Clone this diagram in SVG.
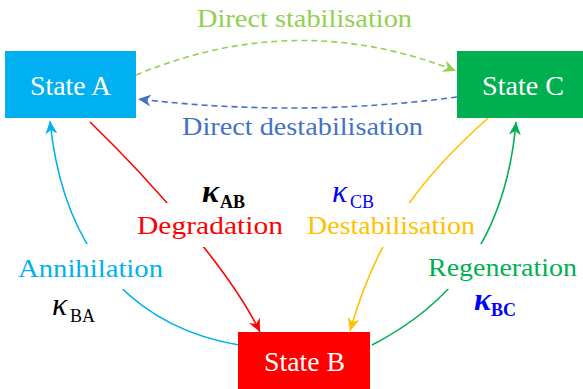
<svg xmlns="http://www.w3.org/2000/svg" width="583" height="389" viewBox="0 0 583 389">
<style>
text{font-family:"Liberation Serif","Times New Roman",serif;}
.lbl{font-size:26px;text-anchor:middle;}
.st{font-size:28px;fill:#fff;text-anchor:middle;}
.k{font-size:32px;font-style:italic;}
.sub{font-size:18px;font-style:normal;}
.c{fill:none;stroke-width:1.6;}
.d{stroke-dasharray:6 4;}
.bg{fill:#fff;}
</style>
<defs>
<marker id="mG1" markerUnits="userSpaceOnUse" markerWidth="14" markerHeight="12" refX="13" refY="6" orient="auto"><path d="M0,0 L13,6 L0,12 L4,6 z" fill="#92D050"/></marker>
<marker id="mB" markerUnits="userSpaceOnUse" markerWidth="14" markerHeight="12" refX="13" refY="6" orient="auto"><path d="M0,0 L13,6 L0,12 L4,6 z" fill="#4472C4"/></marker>
<marker id="mR" markerUnits="userSpaceOnUse" markerWidth="14" markerHeight="12" refX="13" refY="6" orient="auto"><path d="M0,0 L13,6 L0,12 L4,6 z" fill="#FF0000"/></marker>
<marker id="mC" markerUnits="userSpaceOnUse" markerWidth="14" markerHeight="12" refX="13" refY="6" orient="auto"><path d="M0,0 L13,6 L0,12 L4,6 z" fill="#00B0F0"/></marker>
<marker id="mY" markerUnits="userSpaceOnUse" markerWidth="14" markerHeight="12" refX="13" refY="6" orient="auto"><path d="M0,0 L13,6 L0,12 L4,6 z" fill="#FFC000"/></marker>
<marker id="mG2" markerUnits="userSpaceOnUse" markerWidth="14" markerHeight="12" refX="13" refY="6" orient="auto"><path d="M0,0 L13,6 L0,12 L4,6 z" fill="#00B050"/></marker>
</defs>
<g id="connectors">
<path class="c d" stroke="#92D050" d="M136,75 Q297,8 456,71" marker-end="url(#mG1)"/>
<path class="c d" stroke="#4472C4" d="M457,97 Q300,118 138,99" marker-end="url(#mB)"/>
<path class="c" stroke="#FF0000" d="M90,122 C150,180 230,270 260,332" marker-end="url(#mR)"/>
<path class="c" stroke="#00B0F0" d="M239,345 C150,330 65,270 50,121" marker-end="url(#mC)"/>
<path class="c" stroke="#FFC000" d="M488,118 C430,170 380,225 350,331" marker-end="url(#mY)"/>
<path class="c" stroke="#00B050" d="M372,345 C440,310 505,250 516,122" marker-end="url(#mG2)"/>
</g>
<g id="label-direct-stabilisation">
<text class="lbl" x="304.5" y="27" fill="#92D050" textLength="215" lengthAdjust="spacingAndGlyphs">Direct stabilisation</text>
</g>
<g id="label-direct-destabilisation">
<text class="lbl" x="302.5" y="135" fill="#4472C4" textLength="241" lengthAdjust="spacingAndGlyphs">Direct destabilisation</text>
</g>
<g id="label-degradation">
<rect class="bg" x="135" y="203" width="155" height="44"/>
<text class="k" x="202" y="202" font-weight="bold">κ<tspan class="sub" x="220" y="208">AB</tspan></text>
<text class="lbl" x="210" y="234" fill="#FF0000" textLength="146" lengthAdjust="spacingAndGlyphs">Degradation</text>
</g>
<g id="label-destabilisation">
<rect class="bg" x="300" y="203" width="180" height="44"/>
<text class="k" x="332" y="202" fill="#0000FF">κ<tspan class="sub" x="350" y="208">CB</tspan></text>
<text class="lbl" x="391" y="234" fill="#FFC000" textLength="168" lengthAdjust="spacingAndGlyphs">Destabilisation</text>
</g>
<g id="label-annihilation">
<rect class="bg" x="10" y="244" width="162" height="45"/>
<text class="lbl" x="90.5" y="277" fill="#00B0F0" textLength="145" lengthAdjust="spacingAndGlyphs">Annihilation</text>
<text class="k" x="52" y="315">κ<tspan class="sub" x="70" y="322">BA</tspan></text>
</g>
<g id="label-regeneration">
<rect class="bg" x="420" y="244" width="162" height="45"/>
<text class="lbl" x="502.5" y="276" fill="#00B050" textLength="149" lengthAdjust="spacingAndGlyphs">Regeneration</text>
<text class="k" x="474" y="310" fill="#0000FF" font-weight="bold">κ<tspan class="sub" x="491" y="316">BC</tspan></text>
</g>
<g id="state-a">
<rect x="5" y="51" width="131" height="67" fill="#00B0F0"/>
<text class="st" x="70.5" y="95" textLength="81" lengthAdjust="spacingAndGlyphs">State A</text>
</g>
<g id="state-c">
<rect x="457" y="51" width="126" height="67" fill="#00B050"/>
<text class="st" x="523" y="95" textLength="82" lengthAdjust="spacingAndGlyphs">State C</text>
</g>
<g id="state-b">
<rect x="238" y="332" width="132" height="57" fill="#FF0000"/>
<text class="st" x="304.5" y="371" textLength="81" lengthAdjust="spacingAndGlyphs">State B</text>
</g>
</svg>
